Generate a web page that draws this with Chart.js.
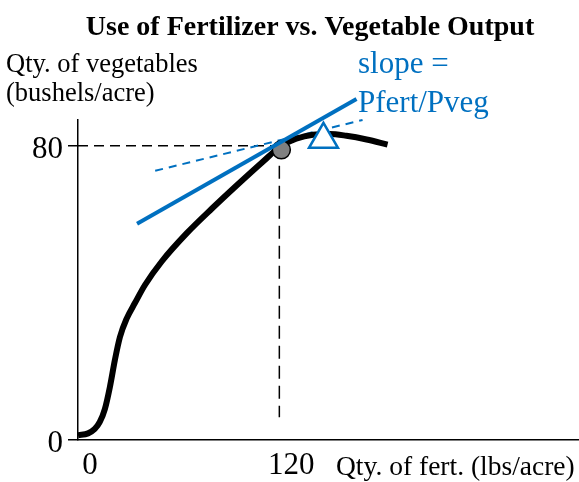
<!DOCTYPE html>
<html>
<head>
<meta charset="utf-8">
<script src="https://cdn.jsdelivr.net/npm/chart.js@4/dist/chart.umd.min.js"></script>
<style>
  html, body { margin: 0; padding: 0; background: #fff; }
  #wrap { width: 579px; height: 482px; }
</style>
</head>
<body>
<div id="wrap"><canvas id="chart" width="579" height="482"></canvas></div>
<script>
// production curve
const fertQty = [0, 6, 10, 13, 16, 19, 22, 25, 29, 34, 40, 50, 65, 80, 95, 110, 121, 130, 140, 150, 160, 172, 184.5];
const vegOutput = [1.3, 1.8, 3.0, 4.9, 8.4, 14.4, 21.8, 28.0, 33.0, 37.3, 42.2, 48.6, 56.3, 63.0, 69.4, 75.6, 79.9, 81.9, 83.0, 83.2, 82.7, 81.7, 80.3];

// tangent (price ratio) line and the dashed one
const tangentX = [35.2, 166];
const tangentY = [58.8, 92.7];
const dashedX = [46, 169.6];
const dashedY = [73.2, 87];

// optimum point, and the peak marker
const optimumX = [121.2];
const optimumY = [78.9];
const peakX = [146.3];
const peakY = [81.7];

const xTicks = [0, 120];
const yTicks = [0, 80];

const blue = '#0070C0';
const serif = '"Liberation Serif", "Times New Roman", serif';

const toPts = (xs, ys) => xs.map((x, i) => ({ x: x, y: ys[i] }));

// text annotations drawn on top
const labelsPlugin = {
  id: 'labels',
  afterDraw(chart) {
    const ctx = chart.ctx;
    ctx.save();
    ctx.fillStyle = '#000';
    ctx.textBaseline = 'alphabetic';
    ctx.font = 'bold 28px ' + serif;
    ctx.textAlign = 'center';
    ctx.fillText('Use of Fertilizer vs. Vegetable Output', 310, 35);
    ctx.textAlign = 'left';
    ctx.font = '26.5px ' + serif;
    ctx.fillText('Qty. of vegetables', 6, 72);
    ctx.fillText('(bushels/acre)', 6, 101);
    ctx.font = '27.5px ' + serif;
    ctx.fillText('Qty. of fert. (lbs/acre)', 336, 475);
    ctx.fillStyle = blue;
    ctx.font = '31px ' + serif;
    ctx.fillText('slope =', 358, 73);
    ctx.fillText('Pfert/Pveg', 358, 112);
    ctx.restore();
  }
};

new Chart(document.getElementById('chart'), {
  type: 'scatter',
  data: {
    datasets: [
      {
        data: toPts(peakX, peakY),
        pointStyle: 'triangle',
        pointRadius: 16.7,
        backgroundColor: '#fff',
        borderColor: blue,
        borderWidth: 2.5,
        clip: false,
        order: 0
      },
      {
        data: toPts(tangentX, tangentY),
        showLine: true,
        borderColor: blue,
        borderWidth: 4,
        pointRadius: 0,
        clip: false,
        order: 1
      },
      {
        data: toPts(optimumX, optimumY),
        pointRadius: 9,
        backgroundColor: '#808080',
        borderColor: '#000',
        borderWidth: 1.5,
        order: 2
      },
      {
        data: toPts(fertQty, vegOutput),
        showLine: true,
        borderColor: '#000',
        borderWidth: 6,
        pointRadius: 0,
        cubicInterpolationMode: 'monotone',
        borderCapStyle: 'butt',
        order: 3
      },
      {
        data: toPts(dashedX, dashedY),
        showLine: true,
        borderColor: blue,
        borderWidth: 2,
        borderDash: [8, 6],
        pointRadius: 0,
        clip: false,
        order: 4
      },
      {
        data: toPts([0, 120], [80, 80]),
        showLine: true,
        borderColor: '#000',
        borderWidth: 1.5,
        borderDash: [10, 6],
        pointRadius: 0,
        order: 5
      },
      {
        data: toPts([120, 120], [80, 6.2]),
        showLine: true,
        borderColor: '#000',
        borderWidth: 1.5,
        borderDash: [13, 7],
        pointRadius: 0,
        order: 5
      }
    ]
  },
  options: {
    responsive: false,
    animation: false,
    layout: { autoPadding: false, padding: { top: 120, right: 1, left: 0, bottom: 0 } },
    plugins: {
      legend: { display: false },
      tooltip: { enabled: false }
    },
    scales: {
      x: {
        type: 'linear',
        min: 0,
        max: 298,
        afterBuildTicks: (s) => { s.ticks = xTicks.map(v => ({ value: v })); },
        afterFit: (s) => { s.height = 42; s.paddingLeft = 0; s.paddingRight = 0; },
        border: { color: '#000', width: 1.5 },
        grid: { display: false, drawTicks: false },
        ticks: {
          color: '#000',
          font: { family: serif, size: 31 },
          padding: 7,
          labelOffset: 12,
          maxRotation: 0
        }
      },
      y: {
        type: 'linear',
        min: 0,
        max: 87,
        afterBuildTicks: (s) => { s.ticks = yTicks.map(v => ({ value: v })); },
        afterFit: (s) => { s.width = 78; s.paddingTop = 0; s.paddingBottom = 0; },
        border: { color: '#000', width: 1.5 },
        grid: { drawOnChartArea: false, drawTicks: true, tickLength: 10, color: '#000', lineWidth: 1.5 },
        ticks: {
          color: '#000',
          font: { family: serif, size: 31 },
          padding: 5,
          labelOffset: 4
        }
      }
    }
  },
  plugins: [labelsPlugin]
});
</script>
</body>
</html>
